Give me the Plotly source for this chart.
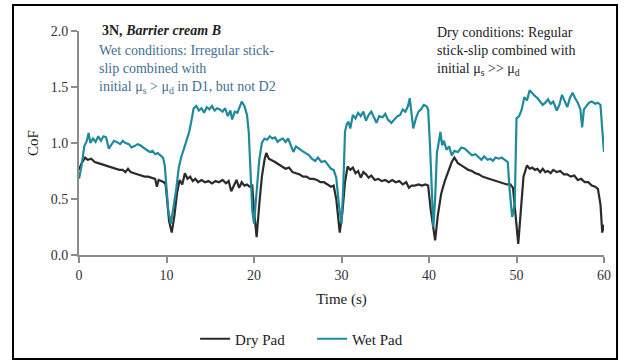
import plotly.graph_objects as go

# Dry pad trace: time (s) and coefficient of friction
dry_time = [0.0, 0.3, 0.7, 1.0, 1.4, 1.8, 2.2, 2.6, 3.0, 3.4, 3.8, 4.2, 4.6, 5.0, 5.3, 5.6, 5.9, 6.3, 6.7, 7.1,
            7.5, 7.9, 8.3, 8.7, 8.9, 9.1, 9.4, 9.7, 9.9, 10.1, 10.3, 10.6, 10.9, 11.2, 11.5, 11.8, 12.1, 12.4, 12.7, 13.0,
            13.3, 13.6, 14.0, 14.4, 14.8, 15.2, 15.6, 16.0, 16.4, 16.8, 17.1, 17.4, 17.7, 18.0, 18.3, 18.6, 18.9, 19.2, 19.5, 19.8,
            20.0, 20.3, 20.6, 20.9, 21.2, 21.4, 21.7, 22.0, 22.4, 22.8, 23.2, 23.6, 24.0, 24.4, 24.8, 25.2, 25.6, 26.0, 26.4, 26.8,
            27.2, 27.6, 28.0, 28.4, 28.8, 29.1, 29.4, 29.8, 30.1, 30.4, 30.7, 31.0, 31.3, 31.6, 31.9, 32.2, 32.5, 32.8, 33.1, 33.4,
            33.8, 34.2, 34.6, 35.0, 35.4, 35.8, 36.2, 36.6, 37.0, 37.4, 37.7, 38.0, 38.4, 38.8, 39.2, 39.6, 39.9, 40.2, 40.7, 41.0,
            41.4, 41.8, 42.2, 42.6, 42.9, 43.3, 43.7, 44.1, 44.5, 44.9, 45.3, 45.7, 46.1, 46.5, 46.9, 47.3, 47.7, 48.1, 48.5, 48.9,
            49.3, 49.6, 49.9, 50.2, 50.5, 50.8, 51.2, 51.5, 51.8, 52.1, 52.4, 52.7, 53.0, 53.3, 53.6, 53.9, 54.2, 54.6, 55.0, 55.4,
            55.8, 56.2, 56.6, 57.0, 57.4, 57.8, 58.2, 58.6, 59.0, 59.3, 59.6, 59.8, 60.0]
dry_cof = [0.76, 0.82, 0.87, 0.85, 0.86, 0.83, 0.82, 0.81, 0.80, 0.79, 0.78, 0.77, 0.76, 0.76, 0.74, 0.77, 0.74, 0.73, 0.72, 0.71,
           0.70, 0.70, 0.69, 0.68, 0.61, 0.67, 0.66, 0.65, 0.63, 0.45, 0.30, 0.20, 0.35, 0.55, 0.67, 0.63, 0.73, 0.68, 0.70, 0.66,
           0.68, 0.65, 0.67, 0.65, 0.66, 0.64, 0.66, 0.65, 0.67, 0.64, 0.66, 0.57, 0.62, 0.67, 0.60, 0.65, 0.62, 0.63, 0.61, 0.62,
           0.40, 0.16, 0.45, 0.70, 0.85, 0.91, 0.86, 0.85, 0.83, 0.81, 0.79, 0.77, 0.78, 0.74, 0.73, 0.72, 0.70, 0.70, 0.68, 0.68,
           0.67, 0.65, 0.65, 0.63, 0.61, 0.62, 0.50, 0.20, 0.38, 0.65, 0.79, 0.76, 0.78, 0.73, 0.75, 0.69, 0.74, 0.72, 0.69, 0.71,
           0.67, 0.68, 0.66, 0.67, 0.65, 0.67, 0.65, 0.66, 0.63, 0.65, 0.60, 0.62, 0.62, 0.63, 0.62, 0.63, 0.62, 0.40, 0.13, 0.35,
           0.55, 0.66, 0.74, 0.83, 0.87, 0.82, 0.80, 0.78, 0.76, 0.75, 0.73, 0.72, 0.70, 0.69, 0.68, 0.67, 0.66, 0.65, 0.64, 0.63,
           0.63, 0.60, 0.35, 0.10, 0.40, 0.70, 0.80, 0.77, 0.78, 0.76, 0.77, 0.74, 0.77, 0.74, 0.75, 0.73, 0.76, 0.74, 0.75, 0.72,
           0.72, 0.70, 0.71, 0.67, 0.68, 0.65, 0.65, 0.62, 0.61, 0.59, 0.45, 0.20, 0.27]

# Wet pad trace: time (s) and coefficient of friction
wet_time = [0.0, 0.3, 0.6, 0.9, 1.1, 1.3, 1.6, 1.9, 2.2, 2.5, 2.8, 3.1, 3.4, 3.7, 4.0, 4.3, 4.7, 5.0, 5.3, 5.7,
            6.0, 6.3, 6.7, 7.0, 7.3, 7.7, 8.1, 8.4, 8.7, 9.0, 9.3, 9.6, 9.8, 10.0, 10.2, 10.5, 10.8, 11.1, 11.4, 11.7,
            12.0, 12.3, 12.6, 12.9, 13.1, 13.4, 13.7, 14.0, 14.3, 14.6, 14.9, 15.2, 15.5, 15.8, 16.1, 16.4, 16.7, 17.0, 17.3, 17.5,
            17.8, 18.1, 18.4, 18.6, 18.9, 19.2, 19.4, 19.6, 19.8, 20.0, 20.3, 20.6, 20.9, 21.2, 21.5, 21.8, 22.1, 22.4, 22.7, 23.0,
            23.3, 23.6, 23.9, 24.2, 24.5, 24.8, 25.1, 25.5, 25.9, 26.3, 26.6, 27.0, 27.3, 27.7, 28.1, 28.5, 28.8, 29.1, 29.4, 29.7,
            30.0, 30.2, 30.4, 30.6, 30.8, 31.0, 31.3, 31.6, 31.9, 32.2, 32.5, 32.8, 33.1, 33.4, 33.7, 34.0, 34.3, 34.7, 35.0, 35.3,
            35.7, 36.0, 36.4, 36.7, 37.0, 37.3, 37.6, 37.8, 38.0, 38.2, 38.5, 38.8, 39.1, 39.4, 39.7, 39.9, 40.1, 40.3, 40.5, 40.7,
            40.9, 41.1, 41.3, 41.5, 41.7, 42.0, 42.3, 42.6, 42.9, 43.3, 43.7, 44.1, 44.5, 44.9, 45.3, 45.7, 46.0, 46.3, 46.7, 47.0,
            47.3, 47.6, 48.0, 48.3, 48.7, 49.0, 49.2, 49.5, 49.8, 50.0, 50.3, 50.6, 50.9, 51.2, 51.5, 51.8, 52.1, 52.4, 52.7, 53.0,
            53.3, 53.6, 53.9, 54.2, 54.6, 54.9, 55.2, 55.5, 55.8, 56.1, 56.4, 56.7, 57.0, 57.3, 57.5, 57.7, 58.0, 58.3, 58.6, 59.0,
            59.3, 59.6, 59.8, 60.0]
wet_cof = [0.68, 0.80, 0.97, 1.02, 1.09, 1.00, 1.04, 1.01, 1.06, 1.02, 1.06, 1.05, 0.95, 0.98, 1.02, 1.01, 0.99, 1.02, 1.00, 0.99,
           0.96, 0.97, 0.99, 0.98, 0.96, 0.94, 0.92, 0.93, 0.90, 0.91, 0.89, 0.87, 0.80, 0.60, 0.40, 0.28, 0.42, 0.58, 0.78, 0.88,
           0.95, 1.02, 1.10, 1.22, 1.31, 1.33, 1.29, 1.31, 1.27, 1.32, 1.30, 1.33, 1.29, 1.31, 1.30, 1.28, 1.31, 1.24, 1.29, 1.21,
           1.28, 1.27, 1.34, 1.37, 1.33, 1.25, 1.10, 0.70, 0.40, 0.28, 0.55, 0.85, 1.00, 1.04, 1.03, 1.06, 1.04, 1.05, 1.01, 1.03,
           1.04, 1.01, 1.04, 0.97, 0.92, 0.97, 0.95, 0.93, 0.91, 0.89, 0.86, 0.84, 0.87, 0.83, 0.84, 0.80, 0.77, 0.76, 0.69, 0.45,
           0.28, 0.60, 1.10, 1.17, 1.19, 1.13, 1.25, 1.22, 1.27, 1.24, 1.28, 1.20, 1.25, 1.28, 1.23, 1.18, 1.24, 1.23, 1.26, 1.21,
           1.18, 1.21, 1.24, 1.25, 1.30, 1.28, 1.33, 1.40, 1.28, 1.13, 1.22, 1.28, 1.30, 1.34, 1.33, 1.30, 1.00, 0.55, 0.25, 0.50,
           0.91, 1.00, 1.10, 0.98, 1.02, 0.94, 0.97, 0.89, 0.93, 0.92, 0.96, 0.95, 0.92, 0.89, 0.90, 0.87, 0.85, 0.88, 0.85, 0.86,
           0.84, 0.87, 0.86, 0.87, 0.85, 0.83, 0.60, 0.34, 0.45, 1.22, 1.24, 1.30, 1.41, 1.38, 1.47, 1.44, 1.42, 1.40, 1.37, 1.34,
           1.36, 1.39, 1.35, 1.37, 1.29, 1.34, 1.43, 1.38, 1.32, 1.40, 1.45, 1.40, 1.36, 1.30, 1.14, 1.30, 1.33, 1.36, 1.37, 1.35,
           1.36, 1.34, 1.12, 0.92]

x_ticks = [0, 10, 20, 30, 40, 50, 60]
y_ticks = [0.0, 0.5, 1.0, 1.5, 2.0]

SERIF = "Liberation Serif"
DRY_COLOR = "#2b2b2b"
WET_COLOR = "#1e8a9b"
AXIS_COLOR = "#8c8c8c"

fig = go.Figure()
fig.add_trace(go.Scatter(x=dry_time, y=dry_cof, mode="lines", name="Dry Pad",
                         line=dict(color=DRY_COLOR, width=2.2)))
fig.add_trace(go.Scatter(x=wet_time, y=wet_cof, mode="lines", name="Wet Pad",
                         line=dict(color=WET_COLOR, width=2.2)))

axis_common = dict(showline=True, linecolor=AXIS_COLOR, linewidth=2, ticks="outside",
                   tickcolor=AXIS_COLOR, tickwidth=2, ticklen=6, showgrid=False, zeroline=False,
                   tickfont=dict(family=SERIF, size=14, color="#333333"))

fig.update_xaxes(range=[0, 60], tickvals=x_ticks,
                 title=dict(text="Time (s)", font=dict(family=SERIF, size=15, color="#222222"), standoff=12),
                 **axis_common)
fig.update_yaxes(range=[0, 2.0], tickvals=y_ticks, ticktext=[f"{v:.1f}" for v in y_ticks],
                 title=dict(text="CoF", font=dict(family=SERIF, size=15, color="#222222"), standoff=8),
                 **axis_common)

fig.update_layout(
    width=625, height=362,
    margin=dict(l=79, r=21, t=31, b=107, autoexpand=False),
    paper_bgcolor="white", plot_bgcolor="white",
    font=dict(family=SERIF),
    showlegend=True,
    legend=dict(orientation="h", x=0.444, xanchor="center", y=-0.375, yanchor="middle",
                font=dict(family=SERIF, size=15, color="#222222"), itemwidth=30,
                entrywidth=72),
    annotations=[
        dict(text="<b>3N, <i>Barrier cream B</i></b>", xref="paper", yref="paper",
             x=0.04, y=1.004, xanchor="left", yanchor="middle", showarrow=False,
             font=dict(family=SERIF, size=14, color="#222222")),
        dict(text="Wet conditions: Irregular stick-<br>slip combined with<br>"
                  "initial μ<sub>s</sub> &gt; μ<sub>d</sub> in D1, but not D2",
             xref="paper", yref="paper", x=0.034, y=0.955, xanchor="left", yanchor="top",
             align="left", showarrow=False, font=dict(family=SERIF, size=14, color="#3f6f90")),
        dict(text="Dry conditions: Regular<br>stick-slip combined with<br>initial μ<sub>s</sub> &gt;&gt; μ<sub>d</sub>",
             xref="paper", yref="paper", x=0.678, y=1.036, xanchor="left", yanchor="top",
             align="left", showarrow=False, font=dict(family=SERIF, size=14, color="#222222")),
    ],
    shapes=[
        dict(type="rect", xref="paper", yref="paper", x0=-0.1257, x1=1.0248, y0=-0.464, y1=1.116,
             line=dict(color="black", width=2), fillcolor="rgba(0,0,0,0)", layer="below"),
    ],
)

fig.write_html("out.html")
